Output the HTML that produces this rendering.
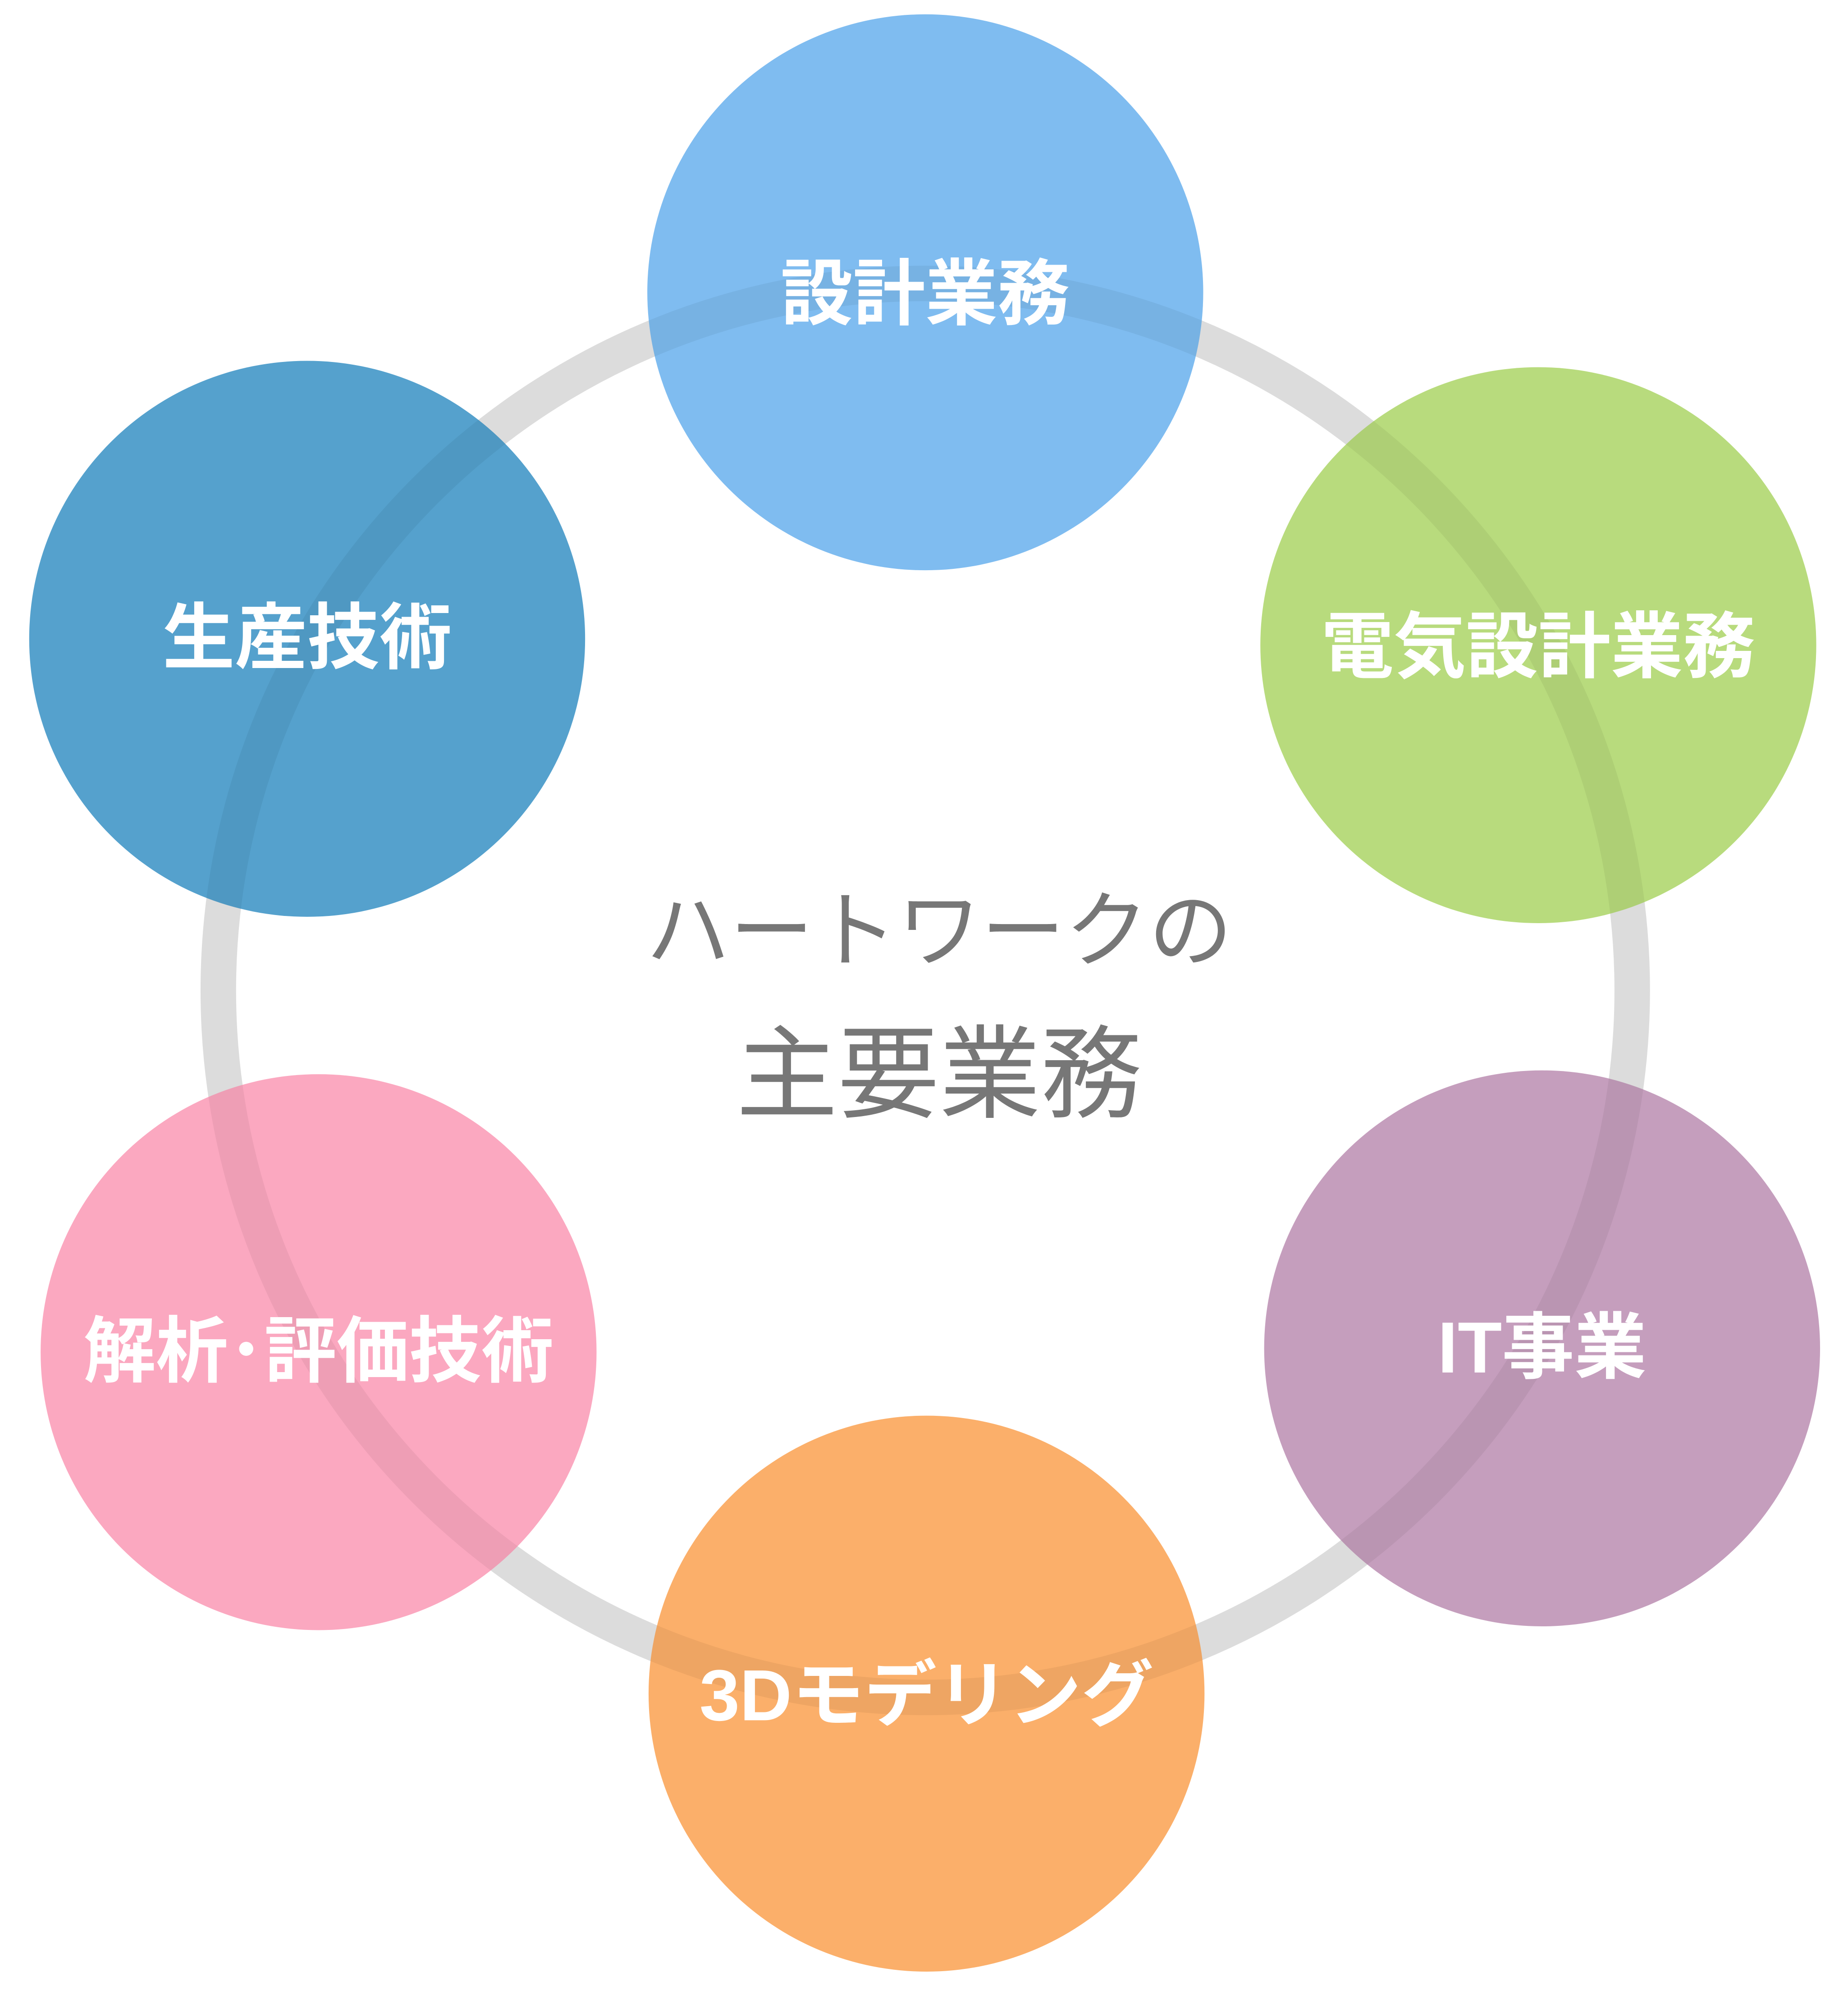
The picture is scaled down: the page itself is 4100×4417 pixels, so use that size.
<!DOCTYPE html>
<html><head><meta charset="utf-8"><style>
html,body{margin:0;padding:0;background:#fff;}
svg{display:block}
text{font-family:"Liberation Sans","Noto Sans CJK JP",sans-serif;}
</style></head><body>
<svg width="4100" height="4417" viewBox="0 0 1456 1568" xmlns="http://www.w3.org/2000/svg">
<rect width="1456" height="1568" fill="#fff"/>
<circle cx="729" cy="780" r="557" fill="none" stroke="#e6e6e6" stroke-width="28"/>
<g opacity="0.92">
<circle cx="729" cy="230" r="219" fill="#74b6ef"/>
<circle cx="1212" cy="508" r="219" fill="#b2d872"/>
<circle cx="1215" cy="1062" r="219" fill="#c096b7"/>
<circle cx="730" cy="1334" r="219" fill="#fba85d"/>
<circle cx="251" cy="1065" r="219" fill="#fba1bb"/>
<circle cx="242" cy="503" r="219" fill="#4699c9"/>
</g>
<circle cx="729" cy="780" r="557" fill="none" stroke="rgba(0,0,0,0.045)" stroke-width="28"/>
<g fill="#fff" font-weight="bold" font-size="57" text-anchor="middle">
<text x="729" y="251">設計業務</text>
<text x="1212" y="529">電気設計業務</text>
<text x="1215" y="1081">IT事業</text>
<text x="730" y="1355">3Dモデリング</text>
<text x="251" y="1084">解析･評価技術</text>
<text x="242" y="522">生産技術</text>
</g>
<g fill="#777" text-anchor="middle">
<text x="740" y="756" font-size="66">ハートワークの</text>
<text x="740" y="874" font-size="80">主要業務</text>
</g>
</svg>
</body></html>
